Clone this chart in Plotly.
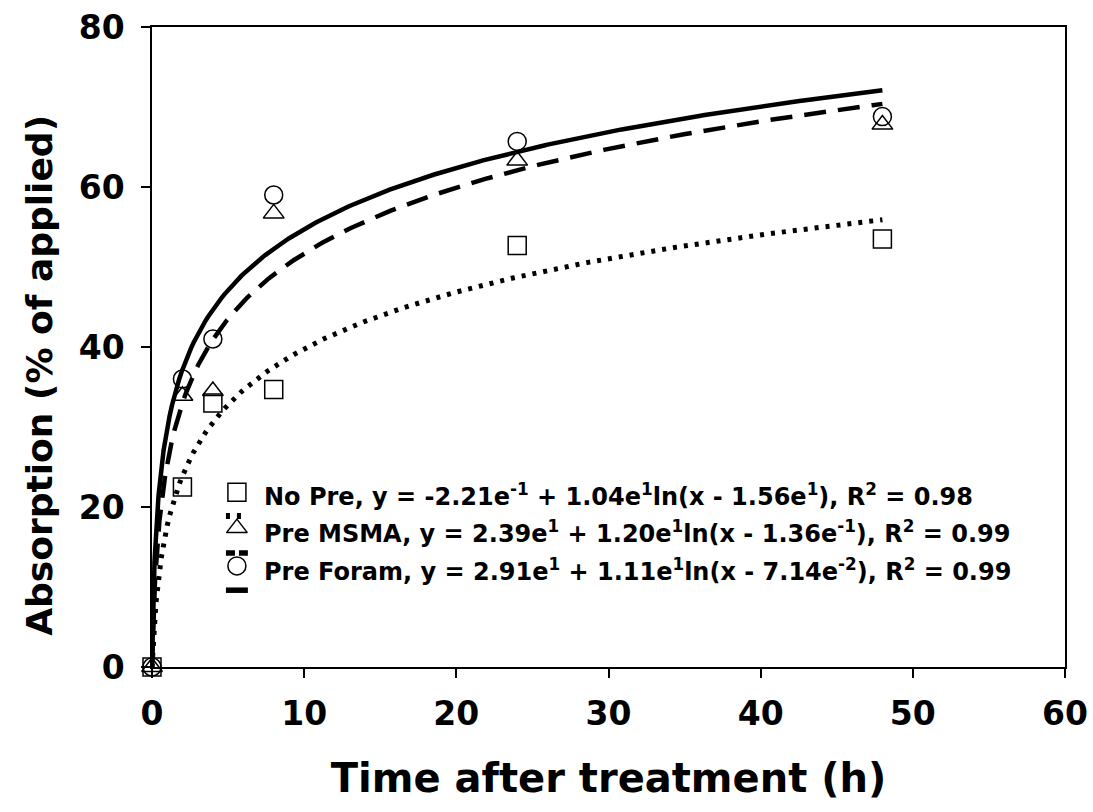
import numpy as np
import plotly.graph_objects as go

# Measured absorption (% of applied) at each sampling time
time_h = [0, 2, 4, 8, 24, 48]
no_pre = [0, 22.5, 33.0, 34.7, 52.7, 53.5]
pre_msma = [0, 33.9, 34.5, 56.7, 63.3, 67.8]
pre_foram = [0, 36.0, 41.0, 59.0, 65.7, 68.8]

series_names = ["No Pre", "Pre MSMA", "Pre Foram"]
series_values = [no_pre, pre_msma, pre_foram]
symbols = ["square-open", "triangle-up-open", "circle-open"]

# Logarithmic fits y = a + b*ln(x + c)
fit_a = [15.6, 23.9, 29.1]
fit_b = [10.4, 12.0, 11.1]
fit_c = [0.221, 0.136, 0.0714]
fit_end = 48
line_dash = ["4px,7px", "22px,12px", "solid"]
key_dash = ["4px,7px", "9px,4px", "solid"]
line_width = [5, 4.5, 4.5]

legend_text = [
    "No Pre, y = -2.21e<sup>-1</sup> + 1.04e<sup>1</sup>ln(x - 1.56e<sup>1</sup>), R<sup>2</sup> = 0.98",
    "Pre MSMA, y = 2.39e<sup>1</sup> + 1.20e<sup>1</sup>ln(x - 1.36e<sup>-1</sup>), R<sup>2</sup> = 0.99",
    "Pre Foram, y = 2.91e<sup>1</sup> + 1.11e<sup>1</sup>ln(x - 7.14e<sup>-2</sup>), R<sup>2</sup> = 0.99",
]

x_ticks = [0, 10, 20, 30, 40, 50, 60]
y_ticks = [0, 20, 40, 60, 80]

FONT = "DejaVu Sans, Arial, sans-serif"
MARGIN_L, MARGIN_R, MARGIN_T, MARGIN_B = 152, 28, 27, 145
WIDTH, HEIGHT = 1093, 812
plot_w = WIDTH - MARGIN_L - MARGIN_R

fig = go.Figure()

# Fitted curves
xs = np.concatenate([np.linspace(0, 1, 80, endpoint=False), np.linspace(1, fit_end, 300)])
for a, b, c, dash, w in zip(fit_a, fit_b, fit_c, line_dash, line_width):
    fig.add_trace(go.Scatter(
        x=xs, y=a + b * np.log(xs + c), mode="lines",
        line=dict(color="black", width=w, dash=dash),
        showlegend=False, hoverinfo="skip",
    ))

# Observed means
for name, vals, sym in zip(series_names, series_values, symbols):
    fig.add_trace(go.Scatter(
        x=time_h, y=vals, mode="markers", name=name, cliponaxis=False,
        marker=dict(symbol=sym, size=18, color="black", line=dict(width=1.5, color="black")),
        showlegend=False,
    ))

# Legend keys drawn on an overlay axis spanning the plot area (0..1 both ways)
key_x = 0.093
key_sym_y = [0.273, 0.217, 0.158]
key_line_y = [0.236, 0.178, 0.120]
text_y = [0.268, 0.211, 0.152]
for sym, sy, ly, dash, w in zip(symbols, key_sym_y, key_line_y, key_dash, line_width):
    fig.add_trace(go.Scatter(
        x=[key_x], y=[sy], mode="markers", xaxis="x2", yaxis="y2",
        marker=dict(symbol=sym, size=18, color="black", line=dict(width=1.5, color="black")),
        showlegend=False, hoverinfo="skip",
    ))
    fig.add_trace(go.Scatter(
        x=[key_x - 0.012, key_x + 0.012], y=[ly, ly], mode="lines", xaxis="x2", yaxis="y2",
        line=dict(color="black", width=w + 1, dash=dash),
        showlegend=False, hoverinfo="skip",
    ))

for txt, ty in zip(legend_text, text_y):
    fig.add_annotation(
        x=0.121, y=ty, xref="paper", yref="paper", text=txt, showarrow=False,
        xanchor="left", yanchor="middle",
        font=dict(family=FONT, size=24, color="black", weight="bold"),
    )

# Y-axis title, placed 40 px from the left edge of the page
fig.add_annotation(
    x=(40 - MARGIN_L) / plot_w, y=0.455, xref="paper", yref="paper",
    text="Absorption (% of applied)",
    showarrow=False, textangle=-90, xanchor="center", yanchor="middle",
    font=dict(family=FONT, size=36, color="black", weight="bold"),
)

axis_common = dict(
    showline=True, linecolor="black", linewidth=1.5, mirror=True,
    ticks="outside", ticklen=9, tickwidth=1.5, tickcolor="black",
    showgrid=False, zeroline=False, automargin=False,
    tickfont=dict(family=FONT, size=33, color="black", weight="bold"),
)

fig.update_layout(
    width=WIDTH, height=HEIGHT,
    margin=dict(l=MARGIN_L, r=MARGIN_R, t=MARGIN_T, b=MARGIN_B),
    plot_bgcolor="white", paper_bgcolor="white",
    xaxis=dict(
        range=[0, 60], tickvals=x_ticks, ticklabelstandoff=8,
        title=dict(text="Time after treatment (h)", standoff=32,
                   font=dict(family=FONT, size=40, color="black", weight="bold")),
        **axis_common,
    ),
    yaxis=dict(
        range=[0, 80], tickvals=y_ticks, ticklabelstandoff=10,
        **axis_common,
    ),
    xaxis2=dict(overlaying="x", range=[0, 1], visible=False),
    yaxis2=dict(overlaying="y", range=[0, 1], visible=False),
)

fig.write_html("out.html")
